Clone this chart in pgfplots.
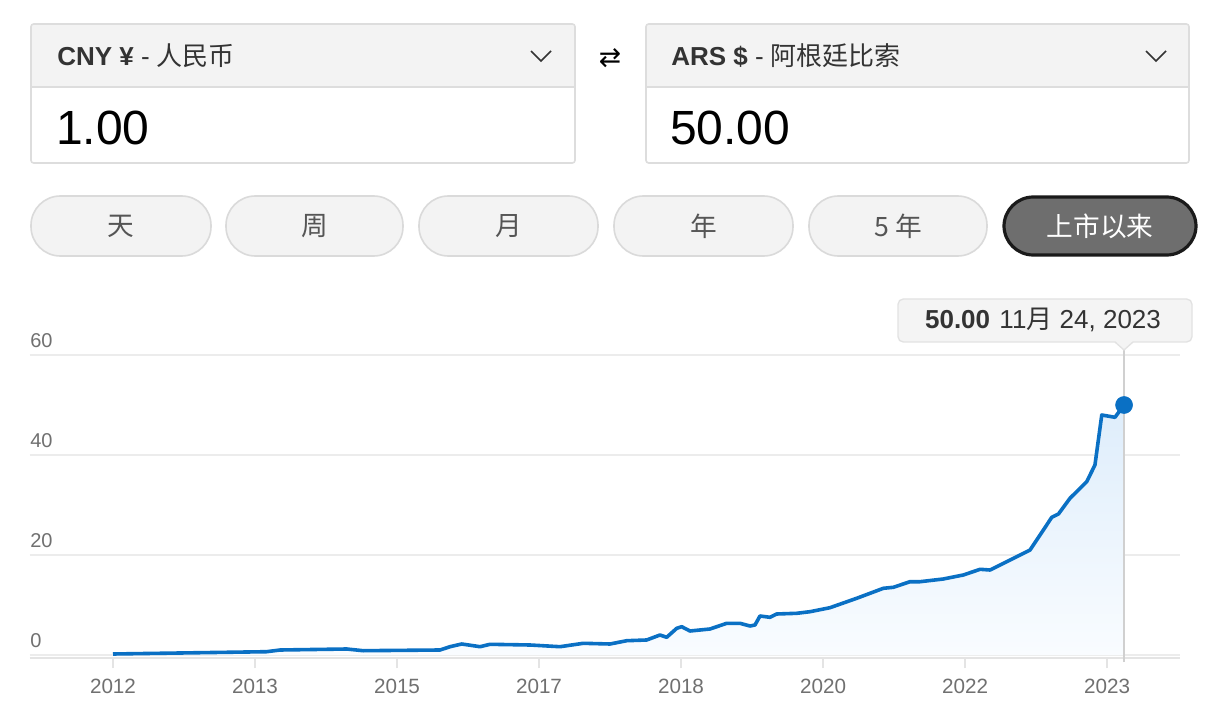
\documentclass[border=0pt]{standalone}
\usepackage{pgfplots}
\usepackage{pgfplotstable}
\pgfplotsset{compat=1.18}
\usepackage{fontspec}
\setmainfont{Liberation Sans}
\newfontfamily\cjk{Noto Sans CJK SC}
\newfontfamily\dejavu{DejaVu Sans}
\definecolor{lineblue}{RGB}{10,112,196}
\definecolor{boxborder}{RGB}{221,221,221}
\definecolor{headfill}{RGB}{243,243,243}
\definecolor{textdark}{RGB}{51,51,51}
\definecolor{btnfill}{RGB}{243,243,243}
\definecolor{btnborder}{RGB}{218,218,218}
\definecolor{btntext}{RGB}{85,85,85}
\definecolor{selfill}{RGB}{110,110,110}
\definecolor{selborder}{RGB}{26,26,26}
\definecolor{gridgray}{RGB}{236,236,236}
\definecolor{axisgray}{RGB}{228,228,228}
\definecolor{labelgray}{RGB}{112,112,112}
\definecolor{vgray}{RGB}{208,208,208}
\definecolor{tipfill}{RGB}{244,244,244}
\definecolor{tipborder}{RGB}{226,226,226}
\definecolor{filltop}{RGB}{222,237,251}
\definecolor{fillbot}{RGB}{249,252,255}

\pgfplotstableread{
x v
0.000 0.20
0.613 0.46
1.082 0.66
1.176 1.00
1.646 1.20
1.761 0.86
2.303 1.00
2.373 1.66
2.456 2.20
2.585 1.66
2.655 2.14
2.937 2.00
3.148 1.66
3.312 2.34
3.500 2.20
3.618 2.86
3.758 3.00
3.852 4.00
3.899 3.54
3.970 5.34
4.005 5.66
4.063 4.80
4.204 5.20
4.322 6.34
4.415 6.34
4.486 5.80
4.521 6.00
4.556 7.80
4.627 7.54
4.674 8.20
4.815 8.34
4.908 8.66
5.049 9.46
5.237 11.34
5.425 13.34
5.495 13.54
5.613 14.66
5.683 14.66
5.847 15.20
5.988 16.00
6.106 17.14
6.176 17.00
6.294 18.66
6.458 21.00
6.611 27.54
6.658 28.20
6.739 31.34
6.857 34.66
6.915 38.00
6.963 48.00
7.056 47.54
7.120 50.00
}\ratedata

\begin{document}
\begin{tikzpicture}
\useasboundingbox (0,0) rectangle (911.25pt,-540pt);
\fill[white] (0,0) rectangle (911.25pt,-540pt);

\begin{scope}[x=0.75pt,y=-0.75pt]
% ---- left currency box
\fill[headfill,rounded corners=1.5pt] (31,24) rectangle (575,87);
\draw[boxborder,line width=1.2pt] (31,87) -- (575,87);
\draw[boxborder,line width=1.2pt,rounded corners=2pt] (31,24) rectangle (575,163);
\node[anchor=west,inner sep=0pt,text=textdark,font=\fontsize{19.5}{22}\selectfont] at (57,56) {\textbf{CNY ¥} - {\cjk 人民币}};
\node[anchor=base west,inner sep=0pt,text=black,font=\fontsize{36}{40}\selectfont] at (56,145) {1.00};
\draw[textdark,line width=1.1pt] (531,51) -- (541,61) -- (551,51);

% ---- swap icon
\node[inner sep=0pt,text=black,font=\dejavu\fontsize{20}{24}\selectfont] at (610,58) {⇄};

% ---- right currency box
\fill[headfill,rounded corners=1.5pt] (646,24) rectangle (1189,87);
\draw[boxborder,line width=1.2pt] (646,87) -- (1189,87);
\draw[boxborder,line width=1.2pt,rounded corners=2pt] (646,24) rectangle (1189,163);
\node[anchor=west,inner sep=0pt,text=textdark,font=\fontsize{19.5}{22}\selectfont] at (671,56) {\textbf{ARS \$} - {\cjk 阿根廷比索}};
\node[anchor=base west,inner sep=0pt,text=black,font=\fontsize{36}{40}\selectfont] at (670,145) {50.00};
\draw[textdark,line width=1.1pt] (1146,51) -- (1156,61) -- (1166,51);

% ---- period buttons
\foreach \a/\b/\t in {31/211/天, 226/403/周, 419/598/月, 614/793/年, 809/987/5 年}{
  \draw[btnborder,fill=btnfill,line width=1.2pt,rounded corners=22pt] (\a,196) rectangle (\b,256);
  \node[text=btntext,font=\cjk\fontsize{20}{22}\selectfont] at ({(\a+\b)/2},226) {\t};
}
\draw[selborder,fill=selfill,line width=2.4pt,rounded corners=22pt] (1004,197) rectangle (1196,255);
\node[text=white,font=\cjk\fontsize{20}{22}\selectfont] at (1100,226) {上市以来};
\end{scope}

% ---- chart
\begin{axis}[
  at={(22.5pt,-493.5pt)}, anchor=south west, scale only axis,
  width=862.5pt, height=227.25pt,
  xmin=-0.5845, xmax=7.514, ymin=-0.6, ymax=60,
  clip=false,
  axis x line*=bottom, axis y line*=left,
  x axis line style={draw=axisgray,line width=1.5pt,-},
  y axis line style={draw=none},
  xtick={0,1,2,3,4,5,6,7},
  xticklabels={2012,2013,2015,2017,2018,2020,2022,2023},
  ytick={0,20,40,60},
  /pgf/number format/assume math mode=true,
  tick align=outside,
  major tick length=7.5pt,
  xtick style={draw=axisgray,line width=1.5pt},
  ytick style={draw=none},
  ymajorgrids,
  grid style={draw=gridgray,line width=1.5pt},
  xticklabel style={font=\fontsize{15.5}{18}\selectfont,text=labelgray,inner sep=0pt,yshift=-8pt},
  yticklabel style={font=\fontsize{15}{18}\selectfont,text=labelgray,anchor=south west,inner sep=0pt,yshift=5pt,xshift=7.5pt},
]
\addplot[draw=none,top color=filltop,bottom color=fillbot] table[x=x,y=v] {\ratedata} \closedcycle;
\draw[vgray,line width=1.5pt] (axis cs:7.12,-1.4) -- (axis cs:7.12,61.2);
\addplot[lineblue,line width=2.7pt,line join=round] table[x=x,y=v] {\ratedata};
\addplot[only marks,mark=*,mark size=6.4pt,color=lineblue] coordinates {(7.12,50)};
\end{axis}

% ---- tooltip
\begin{scope}[x=0.75pt,y=-0.75pt]
\draw[tipborder,fill=tipfill,line width=1pt,rounded corners=4pt] (898,299) rectangle (1192,342);
\fill[tipfill] (1115,341) -- (1124,350) -- (1133,341) -- cycle;
\draw[tipborder,line width=1pt] (1115,342) -- (1124,350) -- (1133,342);
\node[inner sep=0pt,font=\fontsize{19.5}{22}\selectfont] at (1043,320) {\textbf{\color{textdark}50.00}\hspace{7pt}{\color{textdark}11{\cjk 月} 24, 2023}};
\end{scope}
\end{tikzpicture}
\end{document}
